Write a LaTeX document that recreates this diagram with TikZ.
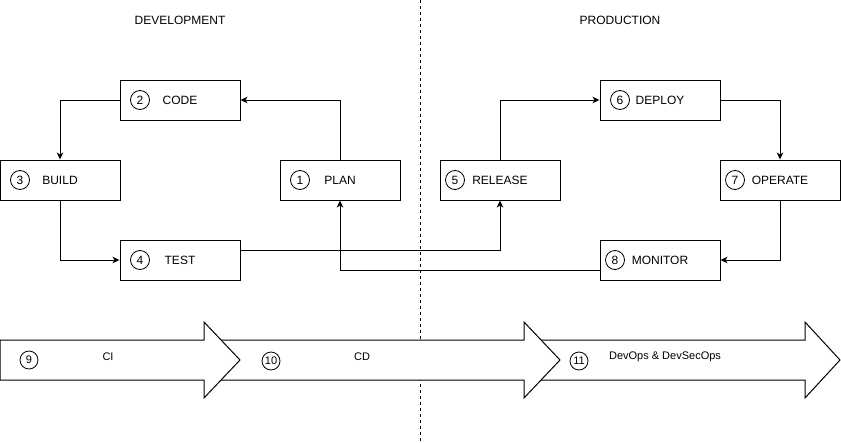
\documentclass[tikz,border=0pt]{standalone}
\usepackage{fontspec}
\setmainfont{Liberation Sans}
\usepackage{tikz}
\usetikzlibrary{arrows.meta}
\tikzset{
  stagenode/.style = {align=center, inner sep=0pt, text centered,
    font=\fontsize{12}{14}\selectfont},
  sbox/.style = {stagenode, rectangle, draw=black, line width=1pt,
    minimum width=120pt, minimum height=40pt},
  snum/.style = {stagenode, circle, draw=black, line width=0.8pt,
    minimum size=19pt},
  bnum/.style = {snum, minimum size=18pt, font=\fontsize{11}{13}\selectfont},
  blabel/.style = {stagenode, font=\fontsize{11}{13}\selectfont},
  band/.style = {-, draw=black, line width=1pt, fill=white, line join=miter}
}

\begin{document}
\begin{tikzpicture}[x=1pt,y=-1pt,->,>={Stealth[length=7pt,width=6.5pt,inset=2pt]},line width=1pt]
    \useasboundingbox (0,0) rectangle (841,442);
    % divider
    \coordinate (divtop) at (420,0);
    \coordinate (divbot) at (420,442);
    \draw[-,line width=0.8pt,dash pattern=on 3pt off 3pt] (divtop) -- (divbot);
    \node[stagenode] (devtitle) at (180,20) {DEVELOPMENT};
    \node[stagenode] (prodtitle) at (620,20) {PRODUCTION};
    % stages
    \node[sbox] (code) at (180,100) {CODE};
    \node[sbox] (build) at (60,180) {BUILD};
    \node[sbox] (plan) at (340,180) {PLAN};
    \node[sbox] (test) at (180,260) {TEST};
    \node[sbox] (release) at (500,180) {RELEASE};
    \node[sbox] (deploy) at (660,100) {DEPLOY};
    \node[sbox] (operate) at (780,180) {OPERATE};
    \node[sbox] (monitor) at (660,260) {MONITOR};
    \node[snum] (n1) at (300,180) {1};
    \node[snum] (n2) at (140,100) {2};
    \node[snum] (n3) at (20,180) {3};
    \node[snum] (n4) at (140,260) {4};
    \node[snum] (n5) at (455,180) {5};
    \node[snum] (n6) at (620,100) {6};
    \node[snum] (n7) at (735,180) {7};
    \node[snum] (n8) at (615,260) {8};
    % loop
    \draw (plan.north) |- (code.east);
    \draw (code.west) -| (build.north);
    \draw (build.south) |- (test.west);
    \draw ([yshift=10pt]test.east) -| (release.south);
    \draw (release.north) |- (deploy.west);
    \draw (deploy.east) -| (operate.north);
    \draw (operate.south) |- (monitor.east);
    \draw ([yshift=-10pt]monitor.west) -| (plan.south);
    % bands
    \draw[band] (530,340) -- (805,340) -- (805,322) -- (840,360)
      -- (805,398) -- (805,380) -- (530,380) -- cycle;
    \draw[band] (210,340) -- (524,340) -- (524,322) -- (560,360)
      -- (524,398) -- (524,380) -- (210,380) -- cycle;
    \draw[band] (0,340) -- (204,340) -- (204,322) -- (240,360)
      -- (204,398) -- (204,380) -- (0,380) -- cycle;
    \node[bnum] (n9) at (29,360) {9};
    \node[bnum] (n10) at (271,361) {10};
    \node[bnum] (n11) at (579,361) {11};
    \node[blabel] (ci) at (108,357) {CI};
    \node[blabel] (cd) at (362,357) {CD};
    \node[blabel] (devops) at (665,357) {DevOps \& DevSecOps};
  \end{tikzpicture}
\end{document}
